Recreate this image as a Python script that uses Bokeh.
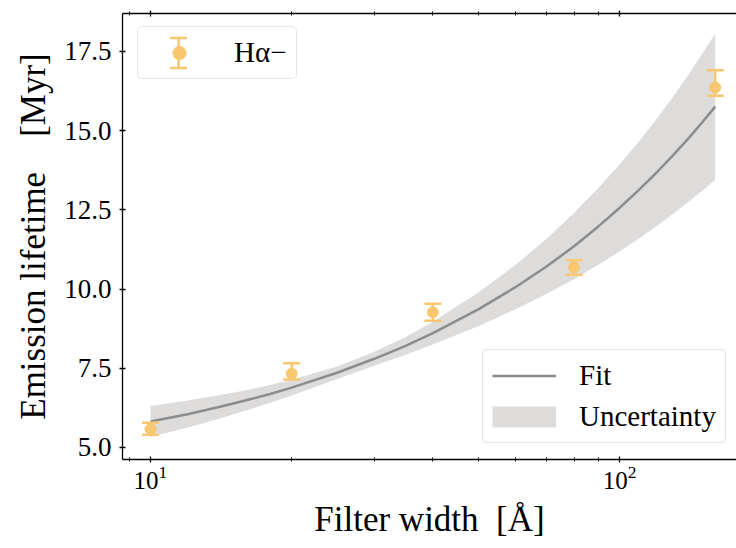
from bokeh.plotting import figure
from bokeh.models import (ColumnDataSource, Whisker, TeeHead, Legend, LegendItem,
                          FixedTicker, PrintfTickFormatter, LogAxis,
                          LogTickFormatter, Range1d)
from bokeh.embed import file_html
from bokeh.resources import INLINE

# ---------------- data ----------------
filter_width = [10, 20, 40, 80, 160]
lifetime = [5.58, 7.33, 9.27, 10.69, 16.36]
err_hi = [0.20, 0.33, 0.27, 0.22, 0.55]
err_lo = [0.18, 0.18, 0.27, 0.24, 0.26]

fit_x = [10, 12, 14, 16, 18, 20, 25, 30, 35, 40, 50, 60, 70, 80, 90,
         100, 110, 120, 130, 140, 150, 160]
fit_y = [5.82, 6.05, 6.28, 6.49, 6.69, 6.89, 7.36, 7.80, 8.21, 8.61, 9.36,
         10.06, 10.72, 11.35, 11.97, 12.56, 13.13, 13.68, 14.22, 14.74, 15.26, 15.76]
fit_hi = [6.31, 6.48, 6.65, 6.81, 6.97, 7.14, 7.56, 8.02, 8.49, 8.97, 9.89,
          10.76, 11.60, 12.40, 13.18, 13.93, 14.66, 15.37, 16.07, 16.74, 17.42, 18.07]
fit_lo = [5.33, 5.63, 5.91, 6.17, 6.41, 6.64, 7.16, 7.58, 7.93, 8.25, 8.83,
          9.36, 9.85, 10.31, 10.76, 11.19, 11.60, 11.99, 12.37, 12.74, 13.10, 13.45]

x_major_ticks = [10, 100]
x_minor_ticks = [9, 20, 30, 40, 50, 60, 70, 80, 90]
y_ticks = [5.0, 7.5, 10.0, 12.5, 15.0, 17.5]

series_label = "Hα−"
fit_label = "Fit"
band_label = "Uncertainty"
x_label = "Filter width\u2002[Å]"
y_label = "Emission lifetime\u2003[Myr]"

# ---------------- styling ----------------
FONT = "Liberation Serif"
ORANGE = "#f8c770"
BAND = "#dedbdb"
FITC = "#8c8c8c"

p = figure(width=736, height=548, x_axis_type="log",
           x_range=Range1d(8.716, 177.6), y_range=Range1d(4.621, 18.699),
           output_backend="svg", toolbar_location=None,
           min_border_left=122, min_border_right=0, min_border_top=13,
           min_border_bottom=89)
p.outline_line_color = None
p.xgrid.visible = False
p.ygrid.visible = False
p.background_fill_color = "white"
p.border_fill_color = "white"

# uncertainty band, fit line
band_src = ColumnDataSource(dict(x=fit_x, lo=fit_lo, hi=fit_hi))
band_r = p.varea(x="x", y1="lo", y2="hi", source=band_src, fill_color=BAND)
fit_src = ColumnDataSource(dict(x=fit_x, y=fit_y))
fit_r = p.line(x="x", y="y", source=fit_src, line_color=FITC, line_width=2.5)
# legend-only proxy for the band (one NaN point, draws nothing in the plot)
band_proxy = p.line(x=[float("nan")], y=[float("nan")], line_color=BAND,
                    line_width=21)

# data points with error bars
pts_src = ColumnDataSource(dict(
    x=filter_width, y=lifetime,
    upper=[v + e for v, e in zip(lifetime, err_hi)],
    lower=[v - e for v, e in zip(lifetime, err_lo)]))
wh = Whisker(base="x", upper="upper", lower="lower", source=pts_src,
             dimension="height", line_color=ORANGE, line_width=2.5,
             upper_head=TeeHead(size=17, line_color=ORANGE, line_width=2.5),
             lower_head=TeeHead(size=17, line_color=ORANGE, line_width=2.5),
             level="glyph")
p.add_layout(wh)
pts_r = p.scatter(x="x", y="y", source=pts_src, size=11, fill_color=ORANGE,
                  line_color=ORANGE)

# ---------------- axes ----------------
for ax in [p.xaxis[0], p.yaxis[0]]:
    ax.axis_line_width = 1.3
    ax.axis_line_color = "black"
    ax.major_tick_line_width = 1.3
    ax.major_tick_in = 3
    ax.major_tick_out = 3
    ax.minor_tick_line_width = 1.0
    ax.minor_tick_in = 2
    ax.minor_tick_out = 2
    ax.major_label_text_font = FONT
    ax.axis_label_text_font = FONT
    ax.axis_label_text_font_style = "normal"
    ax.axis_label_text_color = "black"
    ax.major_label_text_color = "black"

p.xaxis[0].ticker = FixedTicker(ticks=x_major_ticks, minor_ticks=x_minor_ticks)
p.xaxis[0].formatter = LogTickFormatter()
p.xaxis[0].major_label_text_font_size = "25px"
p.xaxis[0].major_label_standoff = 3
p.xaxis[0].axis_label = x_label
p.xaxis[0].axis_label_text_font_size = "35px"
p.xaxis[0].axis_label_standoff = 8

p.yaxis[0].ticker = FixedTicker(ticks=y_ticks)
p.yaxis[0].formatter = PrintfTickFormatter(format="%.1f")
p.yaxis[0].minor_tick_line_color = None
p.yaxis[0].major_label_text_font_size = "27px"
p.yaxis[0].major_label_standoff = 8
p.yaxis[0].axis_label = y_label
p.yaxis[0].axis_label_text_font_size = "35px"
p.yaxis[0].axis_label_standoff = 8

top = LogAxis(ticker=FixedTicker(ticks=x_major_ticks, minor_ticks=x_minor_ticks),
              axis_line_width=1.3,
              major_tick_line_width=1.3, major_tick_in=3, major_tick_out=3,
              minor_tick_line_width=1.0, minor_tick_in=2, minor_tick_out=2,
              major_label_text_font_size="0px", major_label_text_color=None)
p.add_layout(top, "above")

# ---------------- legends ----------------
def style_legend(lg):
    lg.label_text_font = FONT
    lg.label_text_font_size = "29px"
    lg.label_text_color = "black"
    lg.border_line_color = "#cccccc"
    lg.border_line_width = 1.2
    lg.background_fill_color = "white"
    lg.background_fill_alpha = 0.8
    lg.padding = 9
    lg.spacing = 8
    lg.margin = 0
    lg.glyph_width = 64
    lg.glyph_height = 33
    lg.label_height = 33
    lg.label_standoff = 23
    if "border_radius" in lg.properties():
        lg.border_radius = 5

leg1 = Legend(items=[LegendItem(label=series_label, renderers=[pts_r])],
              location=(15, 380))
style_legend(leg1)
leg1.background_fill_alpha = 0.0
p.add_layout(leg1, "center")

leg2 = Legend(items=[LegendItem(label=fit_label, renderers=[fit_r]),
                     LegendItem(label=band_label, renderers=[band_proxy])],
              location=(360, 16))
style_legend(leg2)
p.add_layout(leg2, "center")

# vertical error bar drawn over the first legend's marker
leg_wh = Whisker(base=56, upper=421.5, lower=391.5, base_units="screen",
                 upper_units="screen", lower_units="screen", dimension="height",
                 line_color=ORANGE, line_width=2.5,
                 upper_head=TeeHead(size=17, line_color=ORANGE, line_width=2.5),
                 lower_head=TeeHead(size=17, line_color=ORANGE, line_width=2.5),
                 level="overlay")
p.add_layout(leg_wh)

open("out.html", "w").write(file_html(p, INLINE))
